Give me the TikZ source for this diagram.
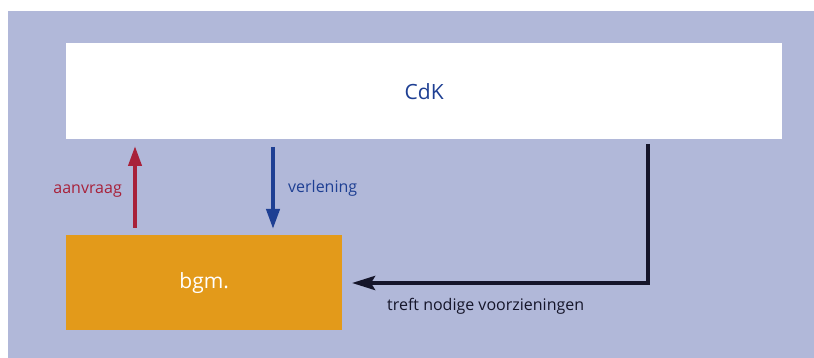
\documentclass[tikz,border=0pt]{standalone}
\usepackage{fontspec}
\setmainfont{Open Sans}
\usetikzlibrary{arrows.meta}
\definecolor{panel}{HTML}{B1B8D9}
\definecolor{reqred}{HTML}{A8213A}
\definecolor{grantblue}{HTML}{1E3F93}
\definecolor{mayorange}{HTML}{E39A1A}
\definecolor{inkdark}{HTML}{15152A}
\begin{document}
\begin{tikzpicture}[x=1pt,y=-1pt,
  box/.style={draw=none,inner sep=0pt,anchor=north west,font=\fontsize{21}{24}\selectfont},
  flow/.style={line width=4pt,-{Triangle[length=20pt,width=13pt]}},
  lbl/.style={inner sep=0pt,font=\fontsize{16}{18}\selectfont}]
  \useasboundingbox (0,0) rectangle (814,358);
  \fill[panel] (8,11) rectangle (814,358);
  % organisations
  \node[box,fill=white,text=grantblue,minimum width=716pt,minimum height=96pt] (cdk) at (66,43) {CdK};
  \node[box,fill=mayorange,text=white,minimum width=276pt,minimum height=95pt] (bgm) at (66,235) {bgm.};
  % request and extension
  \coordinate (aFrom) at (135,228);
  \coordinate (aTo) at (135,146);
  \coordinate (vFrom) at (273,147);
  \coordinate (vTo) at (273,229);
  \draw[flow,draw=reqred] (aFrom) -- (aTo);
  \draw[flow,draw=grantblue] (vFrom) -- (vTo);
  \node[lbl,text=reqred,anchor=east] (aLbl) at (122,191) {aanvraag};
  \node[lbl,text=grantblue,anchor=west] (vLbl) at (288,188) {verlening};
  % measures taken
  \coordinate (tFrom) at (648,144);
  \coordinate (tBend) at (648,283);
  \coordinate (tTo) at (352,283);
  \draw[draw=inkdark,line width=4pt,-{Stealth[length=23pt,width=14pt,inset=4pt]}] (tFrom) -- (tBend) -- (tTo);
  \node[lbl,text=inkdark,anchor=west] (tLbl) at (387,306) {treft nodige voorzieningen};
\end{tikzpicture}
\end{document}
